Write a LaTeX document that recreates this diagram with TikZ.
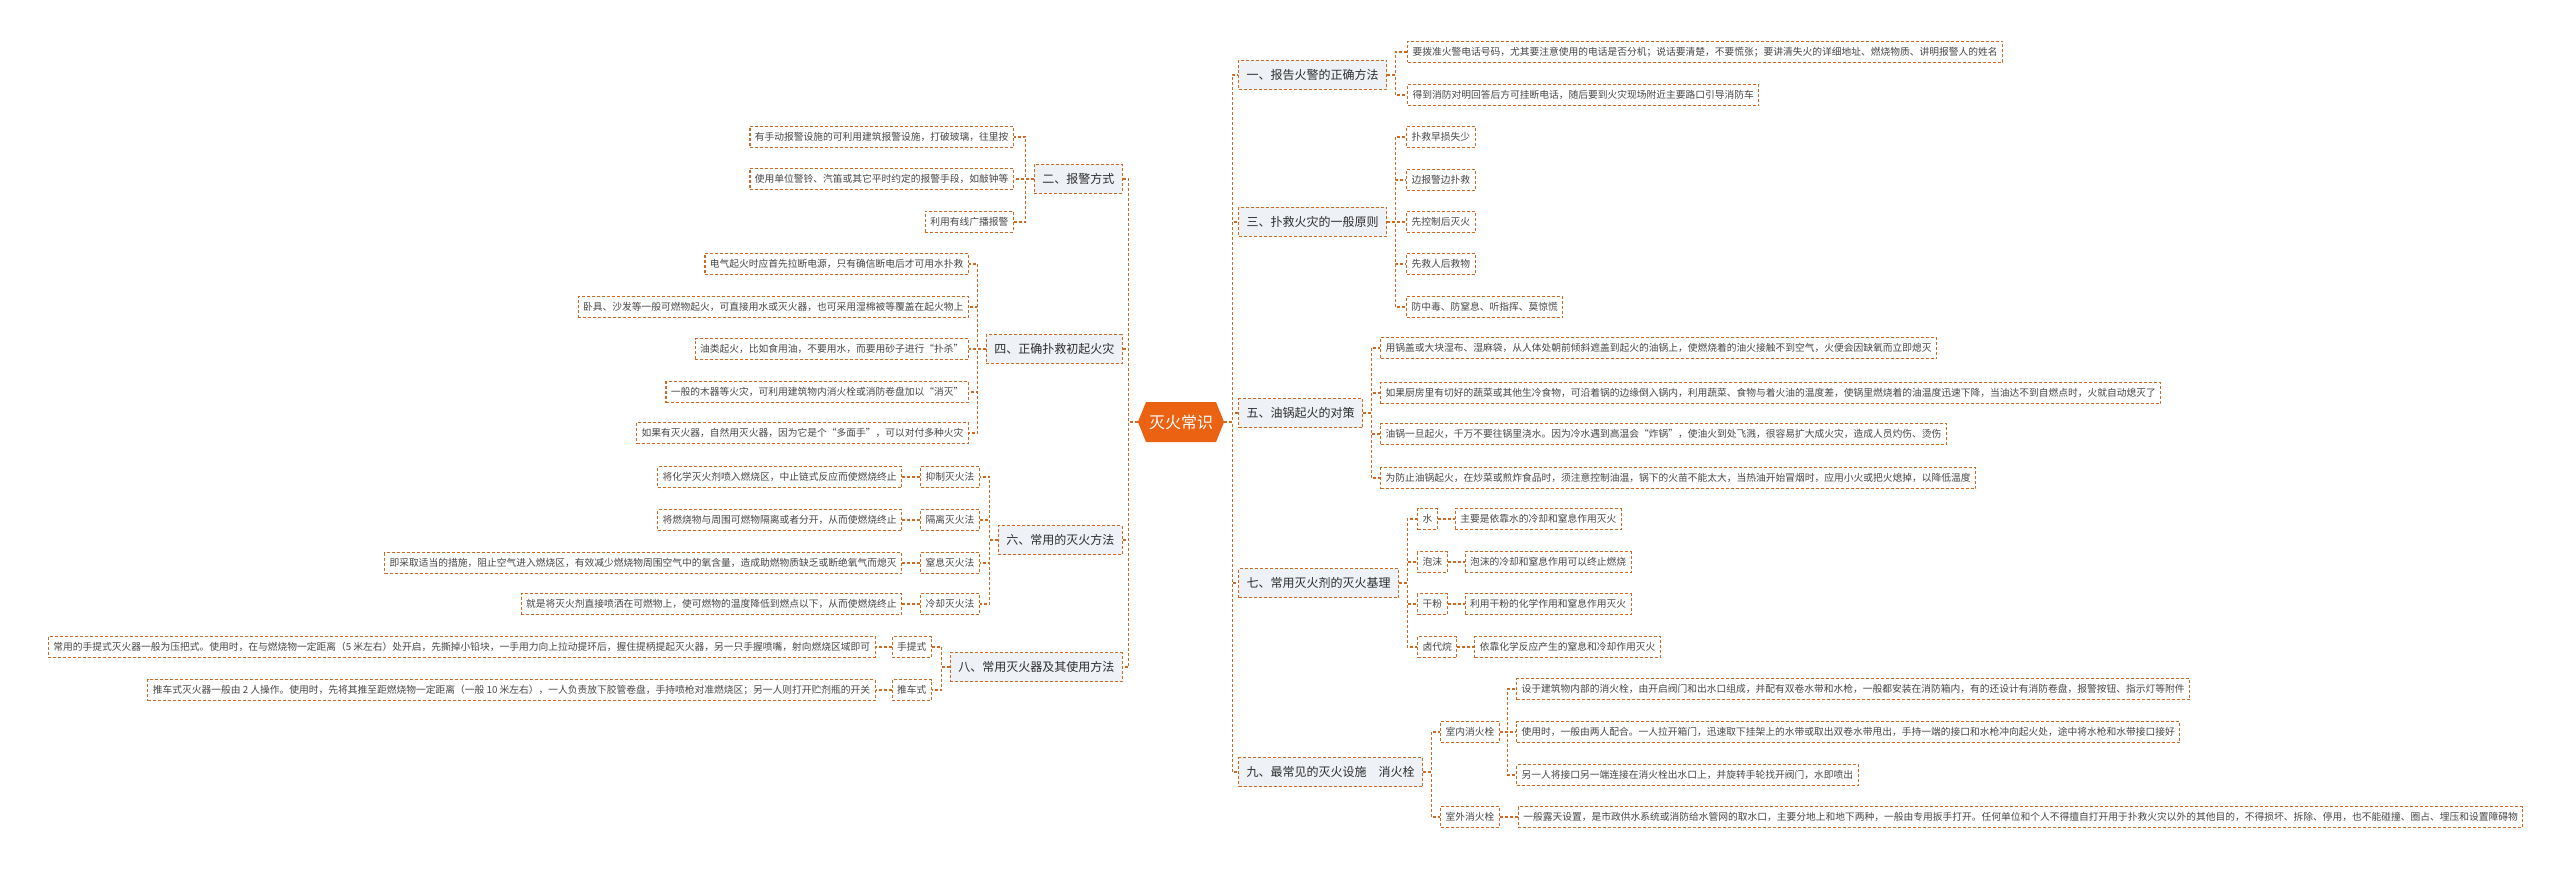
\documentclass[tikz,border=0pt]{standalone}
\usepackage{fontspec}
\usepackage{xcolor}
\usepackage{tikz}
\usetikzlibrary{positioning,shapes.symbols}
\newfontfamily\cjk{Noto Sans CJK SC}
\definecolor{lineor}{RGB}{208,106,34}
\definecolor{rootor}{RGB}{234,98,18}
\definecolor{topicbg}{RGB}{238,241,246}
\definecolor{topictext}{RGB}{45,45,45}
\definecolor{leaftext}{RGB}{70,70,70}
\tikzset{
  conn/.style={draw=lineor,line width=1.1pt,dash pattern=on 3pt off 2pt},
  leaf/.style={conn,fill=white,text=leaftext,font=\cjk\fontsize{9.75}{12}\selectfont,inner xsep=5pt,inner ysep=0pt,minimum height=21pt},
  topic/.style={leaf,fill=topicbg,text=topictext,font=\cjk\fontsize{12}{14}\selectfont,inner xsep=8pt,minimum height=29pt},
  root/.style={shape=signal,signal to=east and west,signal pointer angle=136,fill=rootor,text=white,font=\cjk\fontsize{16}{18}\selectfont,inner xsep=3pt,minimum height=40pt},
}

\begin{document}
\begin{tikzpicture}[x=1pt,y=-1pt]
\useasboundingbox (0,0) rectangle (2560,869);
\fill[white] (0,0) rectangle (2560,869);
\node[root] (root) at (1181,422) {灭火常识};

% right side
\node[topic,anchor=west] (t1) at (1238,75) {一、报告火警的正确方法};
\node[leaf,anchor=west] (t1a) at (1407,52) {要拨准火警电话号码，尤其要注意使用的电话是否分机；说话要清楚，不要慌张；要讲清失火的详细地址、燃烧物质、讲明报警人的姓名};
\node[leaf,anchor=west] (t1b) at (1407,95) {得到消防对明回答后方可挂断电话，随后要到火灾现场附近主要路口引导消防车};

\node[topic,anchor=west] (t3) at (1238,222) {三、扑救火灾的一般原则};
\node[leaf,anchor=west] (t3a) at (1406,137) {扑救早损失少};
\node[leaf,anchor=west] (t3b) at (1406,180) {边报警边扑救};
\node[leaf,anchor=west] (t3c) at (1406,222) {先控制后灭火};
\node[leaf,anchor=west] (t3d) at (1406,264) {先救人后救物};
\node[leaf,anchor=west] (t3e) at (1406,307) {防中毒、防窒息、听指挥、莫惊慌};

\node[topic,anchor=west] (t5) at (1238,413) {五、油锅起火的对策};
\node[leaf,anchor=west] (t5a) at (1380,348) {用锅盖或大块湿布、湿麻袋，从人体处朝前倾斜遮盖到起火的油锅上，使燃烧着的油火接触不到空气，火便会因缺氧而立即熄灭};
\node[leaf,anchor=west] (t5b) at (1380,393) {如果厨房里有切好的蔬菜或其他生冷食物，可沿着锅的边缘倒入锅内，利用蔬菜、食物与着火油的温度差，使锅里燃烧着的油温度迅速下降，当油达不到自燃点时，火就自动熄灭了};
\node[leaf,anchor=west] (t5c) at (1380,434) {油锅一旦起火，千万不要往锅里浇水。因为冷水遇到高温会“炸锅”，使油火到处飞溅，很容易扩大成火灾，造成人员灼伤、烫伤};
\node[leaf,anchor=west] (t5d) at (1380,478) {为防止油锅起火，在炒菜或煎炸食品时，须注意控制油温，锅下的火苗不能太大，当热油开始冒烟时，应用小火或把火熄掉，以降低温度};

\node[topic,anchor=west] (t7) at (1238,583) {七、常用灭火剂的灭火基理};
\node[leaf,anchor=west] (s7a) at (1417,519) {水};
\node[leaf,anchor=west] (s7b) at (1417,562) {泡沫};
\node[leaf,anchor=west] (s7c) at (1417,604) {干粉};
\node[leaf,anchor=west] (s7d) at (1417,647) {卤代烷};
\node[leaf,right=17pt of s7a] (d7a) {主要是依靠水的冷却和窒息作用灭火};
\node[leaf,right=17pt of s7b] (d7b) {泡沫的冷却和窒息作用可以终止燃烧};
\node[leaf,right=17pt of s7c] (d7c) {利用干粉的化学作用和窒息作用灭火};
\node[leaf,right=17pt of s7d] (d7d) {依靠化学反应产生的窒息和冷却作用灭火};

\node[topic,anchor=west] (t9) at (1238,772) {九、最常见的灭火设施\quad 消火栓};
\node[leaf,anchor=west] (s9a) at (1440,732) {室内消火栓};
\node[leaf,anchor=west] (s9b) at (1440,817) {室外消火栓};
\node[leaf,anchor=west] (d9a) at (1516,689) {设于建筑物内部的消火栓，由开启阀门和出水口组成，并配有双卷水带和水枪，一般都安装在消防箱内，有的还设计有消防卷盘，报警按钮、指示灯等附件};
\node[leaf,anchor=west] (d9b) at (1516,732) {使用时，一般由两人配合。一人拉开箱门，迅速取下挂架上的水带或取出双卷水带甩出，手持一端的接口和水枪冲向起火处，途中将水枪和水带接口接好};
\node[leaf,anchor=west] (d9c) at (1516,775) {另一人将接口另一端连接在消火栓出水口上，并旋转手轮找开阀门，水即喷出};
\node[leaf,right=18pt of s9b] (d9d) {一般露天设置，是市政供水系统或消防给水管网的取水口，主要分地上和地下两种，一般由专用扳手打开。任何单位和个人不得擅自打开用于扑救火灾以外的其他目的，不得损坏、拆除、停用，也不能碰撞、圈占、埋压和设置障碍物};

% left side
\node[topic,anchor=east] (t2) at (1123,179) {二、报警方式};
\node[leaf,anchor=east] (t2a) at (1014,137) {有手动报警设施的可利用建筑报警设施，打破玻璃，往里按};
\node[leaf,anchor=east] (t2b) at (1014,179) {使用单位警铃、汽笛或其它平时约定的报警手段，如敲钟等};
\node[leaf,anchor=east] (t2c) at (1014,222) {利用有线广播报警};

\node[topic,anchor=east] (t4) at (1123,349) {四、正确扑救初起火灾};
\node[leaf,anchor=east] (t4a) at (969,264) {电气起火时应首先拉断电源，只有确信断电后才可用水扑救};
\node[leaf,anchor=east] (t4b) at (969,307) {卧具、沙发等一般可燃物起火，可直接用水或灭火器，也可采用湿棉被等覆盖在起火物上};
\node[leaf,anchor=east] (t4c) at (969,349) {油类起火，比如食用油，不要用水，而要用砂子进行“扑杀”};
\node[leaf,anchor=east] (t4d) at (969,392) {一般的木器等火灾，可利用建筑物内消火栓或消防卷盘加以“消灭”};
\node[leaf,anchor=east] (t4e) at (969,433) {如果有灭火器，自然用灭火器，因为它是个“多面手”，可以对付多种火灾};

\node[topic,anchor=east] (t6) at (1123,540) {六、常用的灭火方法};
\node[leaf,anchor=east] (s6a) at (980,477) {抑制灭火法};
\node[leaf,anchor=east] (s6b) at (980,520) {隔离灭火法};
\node[leaf,anchor=east] (s6c) at (980,563) {窒息灭火法};
\node[leaf,anchor=east] (s6d) at (980,604) {冷却灭火法};
\node[leaf,left=18pt of s6a] (d6a) {将化学灭火剂喷入燃烧区，中止链式反应而使燃烧终止};
\node[leaf,left=18pt of s6b] (d6b) {将燃烧物与周围可燃物隔离或者分开，从而使燃烧终止};
\node[leaf,left=18pt of s6c] (d6c) {即采取适当的措施，阻止空气进入燃烧区，有效减少燃烧物周围空气中的氧含量，造成助燃物质缺乏或断绝氧气而熄灭};
\node[leaf,left=18pt of s6d] (d6d) {就是将灭火剂直接喷洒在可燃物上，使可燃物的温度降低到燃点以下，从而使燃烧终止};

\node[topic,anchor=east] (t8) at (1123,667) {八、常用灭火器及其使用方法};
\node[leaf,anchor=east] (s8a) at (932,647) {手提式};
\node[leaf,anchor=east] (s8b) at (932,690) {推车式};
\node[leaf,left=16pt of s8a] (d8a) {常用的手提式灭火器一般为压把式。使用时，在与燃烧物一定距离（5 米左右）处开启，先撕掉小铅块，一手用力向上拉动提环后，握住提柄提起灭火器，另一只手握喷嘴，射向燃烧区域即可};
\node[leaf,left=16pt of s8b] (d8b) {推车式灭火器一般由 2 人操作。使用时，先将其推至距燃烧物一定距离（一般 10 米左右），一人负责放下胶管卷盘，手持喷枪对准燃烧区；另一人则打开贮剂瓶的开关};

% connectors
\foreach \n in {t1,t3,t5,t7,t9}
  \draw[conn] (root.east) -- ++(8,0) |- (\n.west);
\foreach \n in {t2,t4,t6,t8}
  \draw[conn] (root.west) -- ++(-9,0) |- (\n.east);
\foreach \p/\c in {t1/t1a,t1/t1b,t3/t3a,t3/t3b,t3/t3c,t3/t3d,t3/t3e,t5/t5a,t5/t5b,t5/t5c,t5/t5d,t7/s7a,t7/s7b,t7/s7c,t7/s7d,t9/s9a,t9/s9b,s9a/d9a,s9a/d9b,s9a/d9c}
  \draw[conn] (\p.east) -- ++(8,0) |- (\c.west);
\foreach \p/\c in {t2/t2a,t2/t2b,t2/t2c,t4/t4a,t4/t4b,t4/t4c,t4/t4d,t4/t4e,t6/s6a,t6/s6b,t6/s6c,t6/s6d,t8/s8a,t8/s8b}
  \draw[conn] (\p.west) -- ++(-8,0) |- (\c.east);
\foreach \p/\c in {s7a/d7a,s7b/d7b,s7c/d7c,s7d/d7d,s9b/d9d}
  \draw[conn] (\p.east) -- (\c.west);
\foreach \p/\c in {s6a/d6a,s6b/d6b,s6c/d6c,s6d/d6d,s8a/d8a,s8b/d8b}
  \draw[conn] (\p.west) -- (\c.east);
\end{tikzpicture}
\end{document}
